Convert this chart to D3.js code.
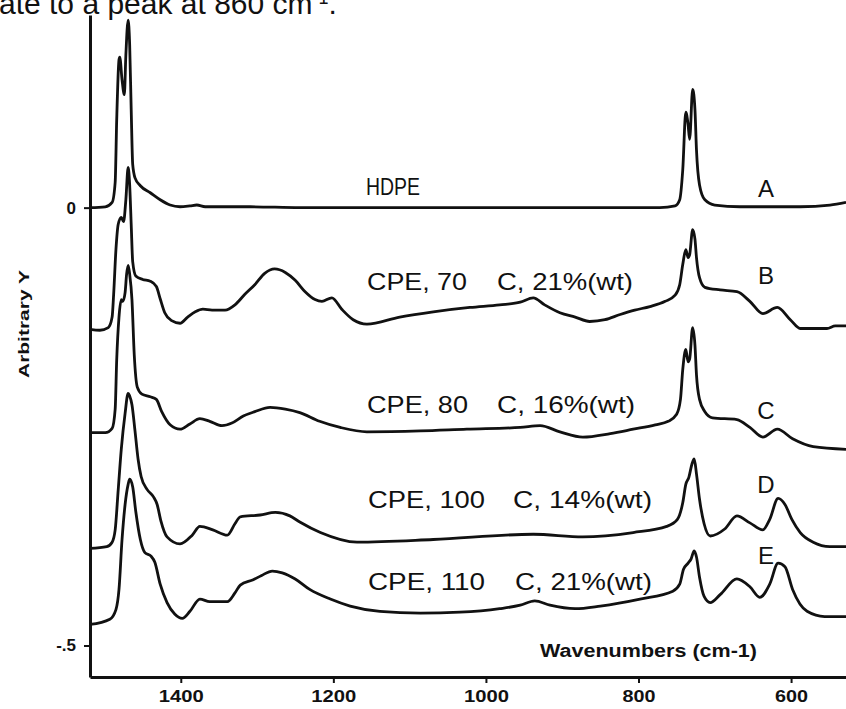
<!DOCTYPE html>
<html>
<head>
<meta charset="utf-8">
<script src="https://cdn.jsdelivr.net/npm/d3@7/dist/d3.min.js"></script>
<style>
    body { margin: 0; background: #ffffff; }
    svg { display: block; }
    text { font-family: "Liberation Sans", Arial, sans-serif; fill: #111; }
</style>
</head>
<body>
<svg id="fig01" width="846" height="709"></svg>
<script>
// Tick values of the axes
const xTicks = [1400, 1200, 1000, 800, 600];
const yTicks = [0, -0.5];
const yTickLabels = ["0", "-.5"];

// Curve letters and sample descriptions (two parts, the degree sign is lost in the scan)
const curveLetters = ["A", "B", "C", "D", "E"];
const sampleNames = ["HDPE", "CPE, 70", "CPE, 80", "CPE, 100", "CPE, 110"];
const sampleConds = ["", "C, 21%(wt)", "C, 16%(wt)", "C, 14%(wt)", "C, 21%(wt)"];

// Spectra as [wavenumber (cm-1), arbitrary Y]
const hdpe = [
    [1519, 0], [1499, 0.001], [1490, 0.006], [1486, 0.029], [1484, 0.100],
    [1481, 0.169], [1480, 0.172], [1477, 0.146], [1474, 0.129], [1472, 0.174],
    [1469, 0.214], [1467, 0.186], [1465, 0.112], [1463, 0.049], [1460, 0.034],
    [1453, 0.025], [1440, 0.017], [1427, 0.009], [1414, 0.003], [1401, 0.001],
    [1388, 0.002], [1379, 0.003], [1368, 0.001], [1309, 0.001], [1244, 0],
    [1113, 0], [982, 0], [850, 0], [772, 0], [752, 0.002], [746, 0.009],
    [742, 0.043], [738, 0.109], [735, 0.095], [733, 0.078], [729, 0.135],
    [726, 0.112], [724, 0.066], [720, 0.026], [713, 0.009], [700, 0.003],
    [667, 0.001], [588, 0.001], [549, 0.003], [528, 0.006]
];

const cpe70 = [
    [1519, -0.139], [1506, -0.140], [1495, -0.137], [1490, -0.125], [1488, -0.099],
    [1485, -0.048], [1482, -0.019], [1478, -0.011], [1475, -0.016], [1472, 0.009],
    [1469, 0.046], [1467, 0.026], [1465, -0.019], [1463, -0.062], [1459, -0.078],
    [1450, -0.082], [1440, -0.084], [1432, -0.090], [1427, -0.104], [1421, -0.120],
    [1412, -0.129], [1401, -0.132], [1391, -0.125], [1381, -0.119], [1371, -0.116],
    [1359, -0.117], [1342, -0.117], [1329, -0.111], [1316, -0.099], [1303, -0.088],
    [1290, -0.075], [1277, -0.070], [1263, -0.074], [1250, -0.083], [1237, -0.096],
    [1224, -0.105], [1215, -0.107], [1202, -0.103], [1189, -0.116], [1174, -0.128],
    [1156, -0.133], [1113, -0.125], [1069, -0.119], [1021, -0.114], [982, -0.111],
    [955, -0.108], [938, -0.103], [923, -0.111], [903, -0.120], [883, -0.125],
    [864, -0.130], [844, -0.128], [824, -0.122], [805, -0.117], [785, -0.113],
    [765, -0.107], [752, -0.100], [746, -0.088], [742, -0.065], [738, -0.048],
    [735, -0.057], [733, -0.054], [729, -0.025], [726, -0.036], [724, -0.057],
    [720, -0.080], [713, -0.091], [693, -0.094], [671, -0.096], [654, -0.107],
    [637, -0.121], [618, -0.114], [601, -0.128], [588, -0.138], [553, -0.138],
    [542, -0.135], [528, -0.135]
];

const cpe80 = [
    [1519, -0.257], [1499, -0.257], [1490, -0.252], [1486, -0.230], [1484, -0.174],
    [1481, -0.125], [1478, -0.105], [1476, -0.107], [1473, -0.097], [1471, -0.076],
    [1469, -0.066], [1467, -0.076], [1464, -0.105], [1461, -0.168], [1457, -0.205],
    [1451, -0.213], [1440, -0.216], [1432, -0.219], [1425, -0.233], [1414, -0.248],
    [1401, -0.253], [1388, -0.247], [1375, -0.241], [1362, -0.244], [1346, -0.249],
    [1333, -0.246], [1318, -0.238], [1303, -0.233], [1283, -0.228], [1263, -0.230],
    [1244, -0.234], [1218, -0.244], [1191, -0.251], [1156, -0.256], [1086, -0.255],
    [1025, -0.253], [955, -0.251], [929, -0.249], [903, -0.256], [873, -0.262],
    [837, -0.258], [807, -0.253], [778, -0.248], [761, -0.244], [750, -0.236],
    [745, -0.219], [742, -0.185], [738, -0.162], [735, -0.176], [733, -0.173],
    [729, -0.137], [726, -0.157], [724, -0.191], [720, -0.219], [713, -0.233],
    [703, -0.240], [671, -0.242], [654, -0.251], [637, -0.262], [618, -0.253],
    [598, -0.264], [571, -0.273], [528, -0.276]
];

const cpe100 = [
    [1519, -0.389], [1497, -0.387], [1490, -0.382], [1486, -0.368], [1482, -0.322],
    [1478, -0.276], [1473, -0.235], [1469, -0.212], [1467, -0.215], [1464, -0.225],
    [1460, -0.255], [1456, -0.287], [1452, -0.307], [1444, -0.322], [1436, -0.330],
    [1431, -0.339], [1426, -0.358], [1418, -0.376], [1401, -0.384], [1385, -0.374],
    [1375, -0.364], [1358, -0.368], [1339, -0.374], [1329, -0.361], [1322, -0.353],
    [1296, -0.351], [1276, -0.348], [1257, -0.352], [1244, -0.359], [1217, -0.371],
    [1169, -0.382], [1069, -0.379], [938, -0.373], [873, -0.376], [807, -0.371],
    [763, -0.364], [749, -0.356], [742, -0.337], [738, -0.316], [734, -0.308],
    [730, -0.293], [727, -0.287], [724, -0.304], [720, -0.333], [714, -0.361],
    [706, -0.375], [687, -0.367], [671, -0.352], [654, -0.360], [637, -0.368],
    [628, -0.356], [617, -0.332], [608, -0.339], [599, -0.356], [588, -0.371],
    [571, -0.382], [549, -0.387], [528, -0.387]
];

const cpe110 = [
    [1519, -0.476], [1493, -0.470], [1485, -0.459], [1481, -0.436], [1477, -0.379],
    [1473, -0.339], [1469, -0.316], [1467, -0.310], [1463, -0.319], [1459, -0.347],
    [1453, -0.379], [1447, -0.394], [1439, -0.398], [1434, -0.405], [1427, -0.430],
    [1418, -0.451], [1408, -0.464], [1398, -0.469], [1388, -0.461], [1375, -0.447],
    [1362, -0.450], [1339, -0.450], [1329, -0.440], [1322, -0.431], [1305, -0.425],
    [1294, -0.420], [1280, -0.415], [1267, -0.417], [1250, -0.424], [1231, -0.436],
    [1204, -0.447], [1178, -0.455], [1139, -0.461], [1086, -0.463], [1034, -0.462],
    [982, -0.458], [955, -0.454], [936, -0.449], [916, -0.454], [883, -0.458],
    [850, -0.455], [798, -0.447], [755, -0.438], [746, -0.430], [741, -0.413],
    [735, -0.406], [731, -0.401], [727, -0.392], [724, -0.399], [720, -0.422],
    [714, -0.444], [706, -0.451], [693, -0.442], [671, -0.424], [654, -0.433],
    [641, -0.445], [628, -0.430], [617, -0.406], [608, -0.410], [598, -0.436],
    [579, -0.461], [556, -0.467], [528, -0.467]
];

const spectra = [hdpe, cpe70, cpe80, cpe100, cpe110];

function makeFig01() {
    const left = 90;
    const right = 846;
    const top = 15;
    const bottom = 677;

    var x = d3.scaleLinear()
        .domain([1519, 528])
        .range([left, right]);

    var y = d3.scaleLinear()
        .domain([-0.536, 0.22])
        .range([bottom, top]);

    var fig = d3.select("#fig01");

    // cut-off line of the page text above the figure
    var caption = fig.append("text")
        .attr("x", -1)
        .attr("y", 14)
        .style("font-size", "30px");
    caption.append("tspan").text("ate to a peak at 860 cm");
    caption.append("tspan").attr("dy", -10).style("font-size", "18px").text("-1");
    caption.append("tspan").attr("dy", 10).text(".");

    var xAxis = d3.axisBottom(x)
        .tickValues(xTicks)
        .tickFormat(d3.format("d"))
        .tickSize(6)
        .tickSizeOuter(0)
        .tickPadding(7);

    var yAxis = d3.axisLeft(y)
        .tickValues(yTicks)
        .tickFormat((d, i) => yTickLabels[i])
        .tickSize(6)
        .tickSizeOuter(0)
        .tickPadding(8);

    fig.append("g")
        .attr("transform", "translate(0," + bottom + ")")
        .call(xAxis)
        .call(g => g.select(".domain").attr("stroke", "#111").attr("stroke-width", 3))
        .call(g => g.selectAll(".tick line").attr("stroke", "#111").attr("stroke-width", 2))
        .call(g => g.selectAll(".tick text")
            .attr("fill", "#111")
            .style("font-size", "17px")
            .style("font-weight", "bold")
            .attr("textLength", d => String(d).length == 4 ? 45 : 33)
            .attr("lengthAdjust", "spacingAndGlyphs"));

    fig.append("g")
        .attr("transform", "translate(" + left + ",0)")
        .call(yAxis)
        .call(g => g.select(".domain").attr("stroke", "#111").attr("stroke-width", 3))
        .call(g => g.selectAll(".tick line").attr("stroke", "#111").attr("stroke-width", 2))
        .call(g => g.selectAll(".tick text")
            .attr("fill", "#111")
            .style("font-size", "17px")
            .style("font-weight", "bold"));

    fig.append("text")
        .attr("transform", "translate(29,324) rotate(-90)")
        .attr("text-anchor", "middle")
        .attr("textLength", 108)
        .attr("lengthAdjust", "spacingAndGlyphs")
        .style("font-size", "15px")
        .style("font-weight", "bold")
        .text("Arbitrary Y");

    fig.append("text")
        .attr("x", 540)
        .attr("y", 657)
        .attr("textLength", 217)
        .attr("lengthAdjust", "spacingAndGlyphs")
        .style("font-size", "18px")
        .style("font-weight", "bold")
        .text("Wavenumbers (cm-1)");

    var lineMaker = d3.line()
        .x(d => x(d[0]))
        .y(d => y(d[1]))
        .curve(d3.curveMonotoneX);

    fig.append("g")
        .selectAll("path")
        .data(spectra)
        .enter()
        .append("path")
        .attr("fill", "none")
        .attr("stroke", "#111")
        .attr("stroke-width", 2.8)
        .attr("stroke-linejoin", "round")
        .attr("d", d => lineMaker(d));

    // label placement: name start, name width, condition start, condition width, baseline
    var namePos = [
        [366, 54, 0, 0, 195],
        [367, 100, 497, 136, 290],
        [367, 101, 497, 138, 413],
        [368, 117, 513, 139, 508],
        [368, 117, 515, 137, 590]
    ];
    var letterBase = [197, 284, 419, 493, 564];

    var labels = fig.append("g").style("font-size", "24px");

    sampleNames.forEach(function(name, i) {
        var p = namePos[i];
        labels.append("text")
            .attr("x", p[0])
            .attr("y", p[4])
            .attr("textLength", p[1])
            .attr("lengthAdjust", "spacingAndGlyphs")
            .text(name);
        if (sampleConds[i] != "") {
            labels.append("text")
                .attr("x", p[2])
                .attr("y", p[4])
                .attr("textLength", p[3])
                .attr("lengthAdjust", "spacingAndGlyphs")
                .text(sampleConds[i]);
        }
        labels.append("text")
            .attr("x", 766)
            .attr("y", letterBase[i])
            .attr("text-anchor", "middle")
            .text(curveLetters[i]);
    });
}

makeFig01();
</script>
</body>
</html>
